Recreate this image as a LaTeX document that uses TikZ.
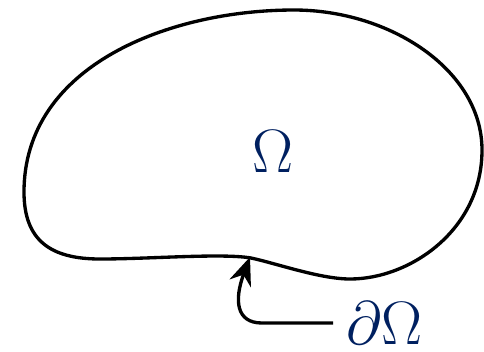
\documentclass[tikz,border=0pt]{standalone}
\usepackage{graphicx}
\usepackage{tikz}
\usetikzlibrary{arrows.meta, positioning}
\definecolor{dknavy}{HTML}{002060}
\newcommand{\bigsym}[1]{\scalebox{1.85}{$#1$}}

\begin{document}
\begin{tikzpicture}[
    x=0.75pt, y=-0.75pt,
    boundary/.style={draw=black, line width=2.5pt},
    symlabel/.style={font=\Huge, color=dknavy, inner sep=0pt},
    >=Stealth
]
\useasboundingbox (0,0) rectangle (484,351);

% ===== Domain boundary =====
\draw[boundary] (24,192)
    .. controls (24,65) and (170,10) .. (294,10)
    .. controls (390,10) and (482,70) .. (482,150)
    .. controls (482,230) and (410,279) .. (350,279)
    .. controls (320,279) and (275,263) .. (251,258)
    .. controls (222,253) and (150,259) .. (100,259)
    .. controls (50,259) and (24,240) .. cycle;

% Labels
\node[symlabel] (dom) at (273,152) {\bigsym{\Omega}};
\node[symlabel, anchor=west, inner xsep=10pt] (bdry) at (333,323) {\bigsym{\partial\Omega}};
\coordinate (tip) at (250,257);

% Pointer to the boundary
\draw[-{Stealth[length=21pt, width=17pt]}, line width=2.5pt]
    (bdry.west) -- (262,323) .. controls (236,323) and (234,300) .. (tip);

\end{tikzpicture}
\end{document}
